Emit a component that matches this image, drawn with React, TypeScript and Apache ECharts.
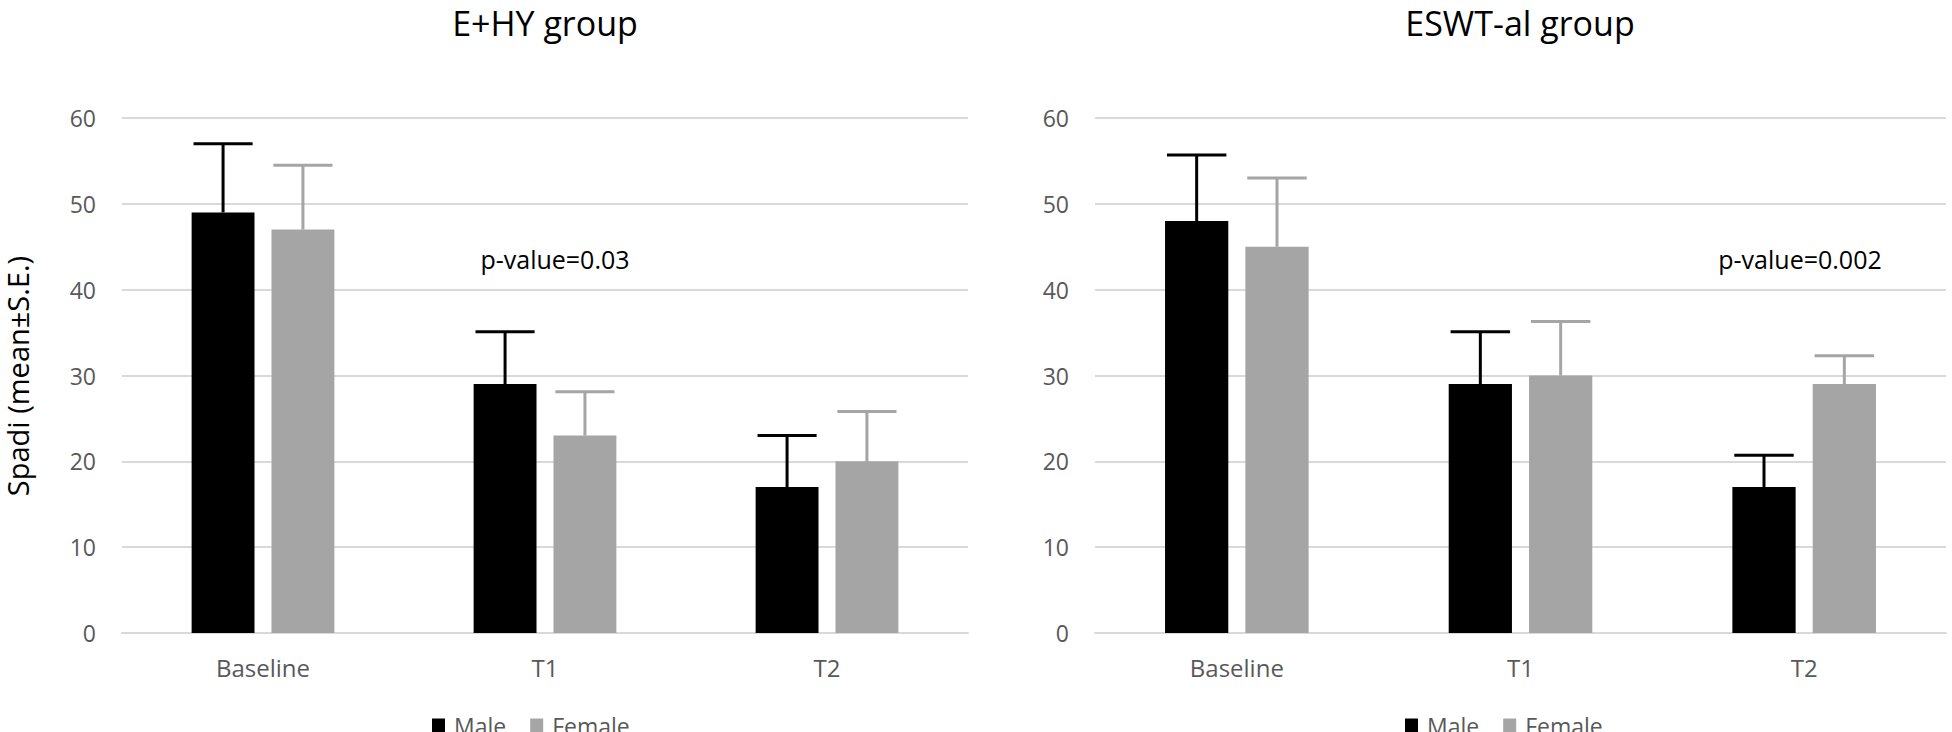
import React, { useEffect, useRef } from "react";
import * as echarts from "echarts";

const categories = ["Baseline", "T1", "T2"];
const yTicks = [0, 10, 20, 30, 40, 50, 60];

const ehyMale = [49, 29, 17];
const ehyMaleSE = [8, 6.1, 6];
const ehyFemale = [47, 23, 20];
const ehyFemaleSE = [7.5, 5.1, 5.8];

const eswtMale = [48, 29, 17];
const eswtMaleSE = [7.7, 6.1, 3.7];
const eswtFemale = [45, 30, 29];
const eswtFemaleSE = [8, 6.3, 3.3];

const titles = ["E+HY group", "ESWT-al group"];
const pValues = ["p-value=0.03", "p-value=0.002"];
const yName = "Spadi (mean±S.E.)";
const legendNames = ["Male", "Female"];

const MALE = "#000000";
const FEMALE = "#A5A5A5";
const FONT = "'Open Sans', sans-serif";
const BAR_W = 0.223;
const BAR_GAP = 0.27;

function errorSeries(name: string, gridIdx: number, means: number[], ses: number[], side: number, color: string) {
  return {
    type: "custom",
    name,
    xAxisIndex: gridIdx,
    yAxisIndex: gridIdx,
    z: 5,
    data: means.map((m, i) => [i, m, ses[i]]),
    renderItem: (params: any, api: any) => {
      const cat = api.value(0);
      const val = api.value(1);
      const se = api.value(2);
      const base = api.coord([cat, val]);
      const top = api.coord([cat, val + se]);
      const band = api.size([1, 0])[0];
      const bw = band * BAR_W;
      const cx = base[0] + side * (bw + bw * BAR_GAP) / 2;
      const capHalf = (bw * 0.94) / 2;
      const style = { stroke: color, lineWidth: 3 };
      return {
        type: "group",
        children: [
          { type: "line", shape: { x1: cx, y1: base[1], x2: cx, y2: top[1] }, style },
          { type: "line", shape: { x1: cx - capHalf, y1: top[1], x2: cx + capHalf, y2: top[1] }, style },
        ],
      };
    },
  };
}

export default function App() {
  const ref = useRef<HTMLDivElement>(null);
  useEffect(() => {
    if (!ref.current) return;
    const chart = echarts.init(ref.current, undefined, { renderer: "svg" });
    const grids = [
      { left: 122, top: 118, width: 846, height: 515 },
      { left: 1095, top: 118, width: 851, height: 515 },
    ];
    const xAxes = grids.map((_, i) => ({
      type: "category",
      gridIndex: i,
      data: categories,
      axisLine: { show: true, lineStyle: { color: "#D9D9D9", width: 2 } },
      axisTick: { show: false },
      axisLabel: { color: "#595959", fontSize: 24, fontFamily: FONT, margin: 22 },
    }));
    const yAxes = grids.map((_, i) => ({
      type: "value",
      gridIndex: i,
      min: yTicks[0],
      max: yTicks[yTicks.length - 1],
      interval: 10,
      axisLine: { show: false },
      axisTick: { show: false },
      axisLabel: { color: "#595959", fontSize: 23, fontFamily: FONT, margin: 26 },
      splitLine: { show: true, lineStyle: { color: "#D9D9D9", width: 2 } },
    }));
    const barSeries = (name: string, idx: number, data: number[], color: string) => ({
      type: "bar",
      name,
      xAxisIndex: idx,
      yAxisIndex: idx,
      data,
      barWidth: BAR_W * 100 + "%",
      barGap: BAR_GAP * 100 + "%",
      itemStyle: { color },
    });
    const textEl = (text: string, x: number, y: number, size: number, extra: any = {}) => ({
      type: "text",
      x,
      y,
      ...extra,
      style: {
        text,
        fontSize: size,
        fontFamily: FONT,
        fill: "#000000",
        align: "center",
        verticalAlign: "middle",
        textAlign: "center",
        textVerticalAlign: "middle",
      },
    });
    const legendBase = {
      data: legendNames,
      top: 709,
      itemWidth: 13,
      itemHeight: 14,
      itemGap: 24,
      icon: "rect",
      textStyle: { color: "#595959", fontSize: 23, fontFamily: FONT, padding: [0, 0, 0, 4] },
    };
    chart.setOption({
      animation: false,
      backgroundColor: "#ffffff",
      grid: grids,
      xAxis: xAxes,
      yAxis: yAxes,
      legend: [
        { ...legendBase, left: 427 },
        { ...legendBase, left: 1400 },
      ],
      series: [
        barSeries(legendNames[0], 0, ehyMale, MALE),
        barSeries(legendNames[1], 0, ehyFemale, FEMALE),
        barSeries(legendNames[0], 1, eswtMale, MALE),
        barSeries(legendNames[1], 1, eswtFemale, FEMALE),
        errorSeries("ehyMaleErr", 0, ehyMale, ehyMaleSE, -1, MALE),
        errorSeries("ehyFemaleErr", 0, ehyFemale, ehyFemaleSE, 1, FEMALE),
        errorSeries("eswtMaleErr", 1, eswtMale, eswtMaleSE, -1, MALE),
        errorSeries("eswtFemaleErr", 1, eswtFemale, eswtFemaleSE, 1, FEMALE),
      ],
      graphic: [
        textEl(titles[0], 545, 23, 34),
        textEl(titles[1], 1520, 23, 34),
        textEl(pValues[0], 555, 259, 25),
        textEl(pValues[1], 1800, 259, 25),
        textEl(yName, 17, 376, 29, { rotation: Math.PI / 2 }),
      ],
    });
    return () => chart.dispose();
  }, []);
  return (
    <div
      ref={ref}
      style={{ position: "absolute", left: 0, top: 0, width: 1952, height: 732 }}
    />
  );
}
